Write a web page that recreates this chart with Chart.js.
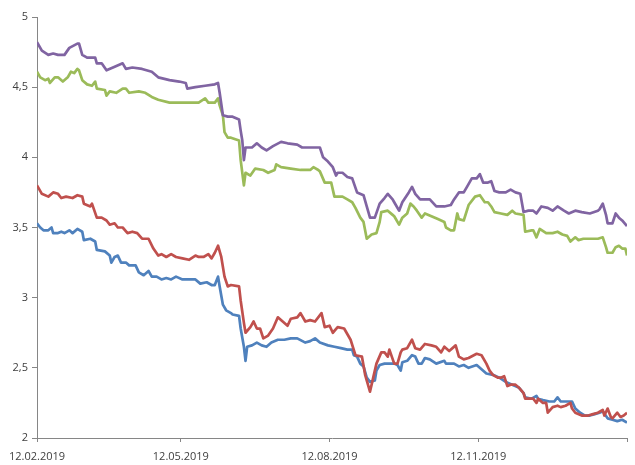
<!DOCTYPE html>
<html>
<head>
<meta charset="utf-8">
<script src="https://cdn.jsdelivr.net/npm/chart.js@4"></script>
<style>
  html, body { margin: 0; padding: 0; background: #fff; }
  #chart { display: block; }
</style>
</head>
<body>
<canvas id="chart" width="635" height="465"></canvas>
<script>
// x = days since 12.02.2019
const tickDays = [0, 89, 181, 273, 365];
const tickLabels = ["12.02.2019", "12.05.2019", "12.08.2019", "12.11.2019", ""];

const purpleDays = [0,3,7,10,13,17,20,25,26,28,31,36,37,40,43,47,53,55,59,65,71,75,82,88,92,93,98,104,110,112,113,115,118,121,125,126,127,128,129,133,136,139,142,146,151,155,161,164,169,175,177,180,183,185,186,189,192,195,198,202,204,206,209,212,215,217,220,221,224,226,230,232,234,237,240,243,247,252,256,258,261,264,266,269,272,274,276,279,281,283,286,290,293,296,299,301,304,307,309,312,316,319,322,326,329,333,337,342,347,348,350,352,353,356,358,360,362,365];
const purpleVals = [4.82,4.76,4.73,4.74,4.73,4.73,4.78,4.81,4.81,4.73,4.71,4.71,4.67,4.67,4.62,4.64,4.67,4.63,4.64,4.63,4.61,4.57,4.55,4.54,4.53,4.49,4.50,4.51,4.52,4.53,4.46,4.30,4.29,4.29,4.27,4.19,4.12,3.98,4.07,4.07,4.10,4.07,4.05,4.08,4.11,4.10,4.09,4.07,4.07,4.07,4.00,3.97,3.93,3.87,3.89,3.89,3.86,3.85,3.75,3.73,3.65,3.57,3.57,3.67,3.71,3.74,3.70,3.68,3.62,3.68,3.75,3.79,3.74,3.70,3.70,3.70,3.65,3.65,3.66,3.70,3.75,3.75,3.79,3.85,3.85,3.88,3.82,3.82,3.83,3.76,3.75,3.75,3.77,3.75,3.74,3.61,3.62,3.62,3.60,3.65,3.64,3.62,3.65,3.62,3.60,3.62,3.61,3.60,3.62,3.63,3.67,3.59,3.53,3.53,3.60,3.57,3.55,3.51];

const greenDays = [0,2,5,7,8,11,13,16,19,21,23,25,26,28,31,34,36,37,42,43,45,49,53,55,57,63,67,71,75,82,86,90,94,100,104,106,110,112,113,115,116,118,120,125,126,128,129,132,135,140,143,147,148,151,157,163,169,171,174,175,178,182,184,189,192,195,197,200,202,204,207,210,212,213,217,220,221,224,226,229,231,233,235,238,240,244,248,252,253,256,258,260,261,264,267,271,274,277,279,281,283,287,291,294,296,301,302,306,307,309,311,315,319,322,325,328,330,333,335,338,342,347,350,352,353,356,358,360,362,364,365];
const greenVals = [4.61,4.57,4.55,4.56,4.53,4.57,4.57,4.54,4.57,4.61,4.60,4.63,4.62,4.55,4.52,4.51,4.54,4.49,4.48,4.44,4.47,4.46,4.49,4.49,4.46,4.47,4.46,4.43,4.41,4.39,4.39,4.39,4.39,4.39,4.42,4.39,4.39,4.42,4.37,4.30,4.18,4.14,4.14,4.12,3.98,3.80,3.89,3.87,3.92,3.91,3.89,3.91,3.95,3.93,3.92,3.91,3.91,3.93,3.91,3.90,3.82,3.82,3.72,3.72,3.70,3.68,3.64,3.57,3.54,3.42,3.45,3.46,3.54,3.61,3.62,3.59,3.58,3.52,3.57,3.60,3.67,3.65,3.62,3.57,3.60,3.58,3.56,3.54,3.50,3.48,3.48,3.60,3.56,3.55,3.66,3.72,3.73,3.68,3.68,3.65,3.61,3.60,3.59,3.62,3.60,3.59,3.47,3.48,3.48,3.43,3.49,3.46,3.46,3.47,3.45,3.44,3.40,3.43,3.41,3.42,3.42,3.42,3.43,3.36,3.32,3.32,3.36,3.37,3.35,3.35,3.30];

const redDays = [0,3,7,10,13,15,18,22,25,28,29,33,34,37,40,43,45,48,50,53,56,59,62,65,69,72,75,77,80,83,86,90,94,98,100,103,106,108,110,112,114,116,118,120,125,126,128,129,132,134,136,138,140,143,146,149,152,155,157,161,163,166,169,172,176,178,181,183,186,190,194,197,201,203,206,208,210,213,215,217,218,221,223,225,226,229,232,234,237,240,244,247,250,252,255,259,261,264,267,272,275,278,280,282,285,287,289,291,293,296,298,301,302,306,307,309,310,313,315,316,319,322,324,327,330,331,333,337,341,344,347,350,351,353,355,356,359,361,363,365];
const redVals = [3.80,3.74,3.72,3.75,3.74,3.71,3.72,3.71,3.73,3.72,3.67,3.65,3.67,3.57,3.57,3.55,3.52,3.53,3.50,3.50,3.46,3.47,3.46,3.42,3.42,3.35,3.30,3.31,3.29,3.31,3.29,3.28,3.27,3.30,3.29,3.29,3.31,3.28,3.32,3.37,3.29,3.15,3.08,3.09,3.08,2.98,2.82,2.75,2.79,2.83,2.78,2.78,2.71,2.73,2.78,2.86,2.83,2.80,2.85,2.86,2.89,2.83,2.84,2.83,2.89,2.79,2.80,2.75,2.79,2.78,2.70,2.59,2.58,2.45,2.33,2.43,2.53,2.61,2.61,2.58,2.63,2.53,2.53,2.61,2.63,2.64,2.70,2.64,2.63,2.67,2.66,2.65,2.61,2.65,2.62,2.66,2.58,2.56,2.57,2.60,2.59,2.53,2.48,2.45,2.43,2.43,2.44,2.37,2.38,2.38,2.36,2.32,2.28,2.28,2.28,2.25,2.28,2.25,2.25,2.18,2.22,2.23,2.22,2.23,2.25,2.21,2.18,2.16,2.16,2.17,2.18,2.20,2.16,2.21,2.15,2.14,2.18,2.15,2.16,2.18];

const blueDays = [0,2,4,7,9,10,13,15,17,20,22,25,28,29,33,36,37,42,45,46,48,50,52,55,57,61,63,66,69,71,74,77,80,83,86,90,94,98,101,105,108,110,112,113,115,117,120,121,125,126,128,129,130,133,136,139,142,145,149,153,157,161,166,169,172,175,180,184,188,192,195,196,198,200,202,204,206,209,210,212,215,218,221,223,225,226,229,232,234,236,238,240,243,247,252,253,258,261,264,267,272,275,278,282,286,290,294,298,301,302,306,309,310,313,317,320,322,324,327,331,333,336,339,342,345,348,350,353,356,359,362,365];
const blueVals = [3.53,3.50,3.48,3.48,3.50,3.46,3.46,3.47,3.46,3.48,3.46,3.49,3.47,3.41,3.42,3.40,3.34,3.33,3.30,3.25,3.29,3.30,3.25,3.25,3.23,3.23,3.18,3.16,3.19,3.15,3.15,3.13,3.14,3.13,3.15,3.13,3.13,3.13,3.10,3.11,3.09,3.09,3.15,3.08,2.95,2.91,2.89,2.88,2.87,2.78,2.65,2.55,2.65,2.66,2.68,2.66,2.65,2.68,2.70,2.70,2.71,2.71,2.68,2.69,2.71,2.68,2.66,2.65,2.64,2.63,2.63,2.59,2.58,2.53,2.51,2.43,2.40,2.41,2.48,2.52,2.53,2.53,2.53,2.52,2.48,2.54,2.55,2.59,2.58,2.53,2.53,2.57,2.56,2.53,2.55,2.53,2.53,2.51,2.52,2.50,2.52,2.49,2.46,2.45,2.43,2.40,2.38,2.36,2.32,2.29,2.28,2.30,2.28,2.27,2.26,2.26,2.29,2.26,2.26,2.26,2.21,2.18,2.16,2.16,2.17,2.18,2.19,2.14,2.13,2.12,2.13,2.11];

const yTicks = [2, 2.5, 3, 3.5, 4, 4.5, 5];

function toPoints(days, vals) {
  return days.map((d, i) => ({ x: d, y: vals[i] }));
}

const axisColor = "#868686";
const textColor = "#404040";

function line(days, vals, color) {
  return {
    data: toPoints(days, vals),
    borderColor: color,
    borderWidth: 2.7,
    pointRadius: 0,
    tension: 0,
    borderJoinStyle: "round",
    fill: false,
  };
}

new Chart(document.getElementById("chart"), {
  type: "line",
  data: {
    datasets: [
      line(purpleDays, purpleVals, "#8064A2"),
      line(greenDays, greenVals, "#9BBB59"),
      line(redDays, redVals, "#C0504D"),
      line(blueDays, blueVals, "#4F81BD"),
    ],
  },
  options: {
    responsive: false,
    animation: false,
    devicePixelRatio: 1,
    layout: { padding: { top: 17, right: 3, left: 0, bottom: 0 } },
    plugins: { legend: { display: false }, tooltip: { enabled: false } },
    scales: {
      x: {
        type: "linear",
        min: tickDays[0],
        max: tickDays[tickDays.length - 1],
        afterBuildTicks: (s) => {
          s.ticks = tickDays.map((v) => ({ value: v }));
        },
        afterFit: (s) => { s.height = 27; },
        ticks: {
          autoSkip: false,
          maxRotation: 0,
          padding: 8,
          color: textColor,
          font: { family: "Open Sans", size: 11 },
          callback: (v) => tickLabels[tickDays.indexOf(v)] || "",
        },
        grid: { drawOnChartArea: false, tickLength: 4, color: axisColor },
        border: { color: axisColor, width: 1 },
      },
      y: {
        min: 2,
        max: 5,
        afterBuildTicks: (s) => {
          s.ticks = yTicks.map((v) => ({ value: v }));
        },
        afterFit: (s) => { s.width = 37; },
        ticks: {
          padding: 4,
          color: textColor,
          font: { family: "Open Sans", size: 11 },
          callback: (v) => String(v).replace(".", ","),
        },
        grid: { drawOnChartArea: false, tickLength: 5, color: axisColor },
        border: { color: axisColor, width: 1 },
      },
    },
  },
});
</script>
</body>
</html>
